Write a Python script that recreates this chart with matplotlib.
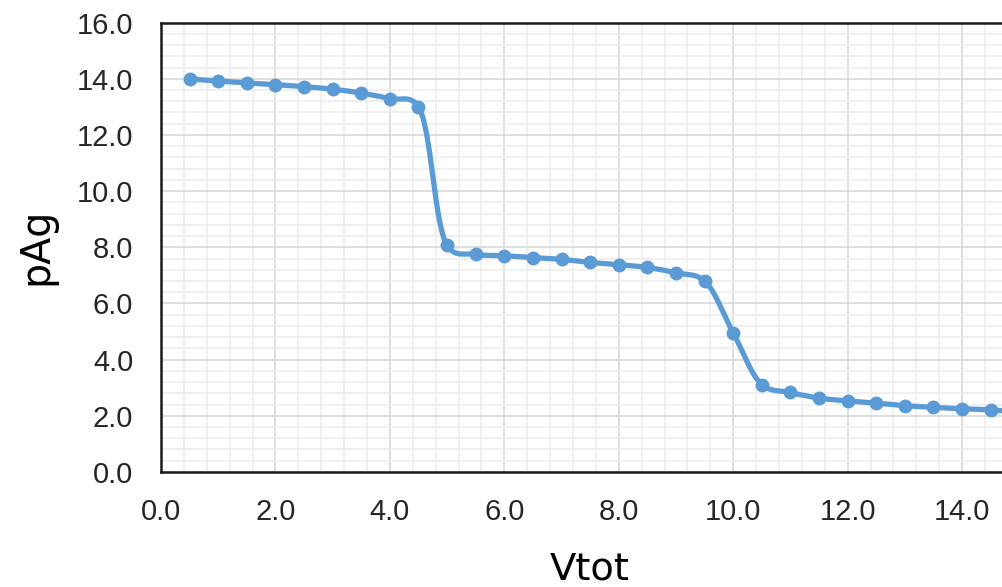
import numpy as np
import matplotlib.pyplot as plt
from matplotlib.ticker import MultipleLocator, FormatStrFormatter

# data
vtot = [0.5, 1.0, 1.5, 2.0, 2.5, 3.0, 3.5, 4.0, 4.5, 5.0,
        5.5, 6.0, 6.5, 7.0, 7.5, 8.0, 8.5, 9.0, 9.5, 10.0,
        10.5, 11.0, 11.5, 12.0, 12.5, 13.0, 13.5, 14.0, 14.5, 15.0]
pag = [13.99, 13.92, 13.85, 13.79, 13.72, 13.63, 13.49, 13.29, 13.0, 8.07,
       7.75, 7.70, 7.63, 7.57, 7.46, 7.38, 7.28, 7.09, 6.80, 4.95,
       3.11, 2.83, 2.63, 2.53, 2.45, 2.36, 2.30, 2.25, 2.21, 2.13]

XSCALE = 57.2   # px per x unit, used only to shape the smoothed line
YSCALE = 28.1


def smooth(x, y, n=40, alpha=0.3):
    # Catmull-Rom in screen-like space, close to Excel's smoothed line
    P = np.column_stack([np.asarray(x, float) * XSCALE, np.asarray(y, float) * YSCALE])
    P = np.vstack([2 * P[0] - P[1], P, 2 * P[-1] - P[-2]])
    out = []
    for i in range(1, len(P) - 2):
        p0, p1, p2, p3 = P[i - 1], P[i], P[i + 1], P[i + 2]
        t0 = 0.0
        t1 = t0 + np.linalg.norm(p1 - p0) ** alpha
        t2 = t1 + np.linalg.norm(p2 - p1) ** alpha
        t3 = t2 + np.linalg.norm(p3 - p2) ** alpha
        t = np.linspace(t1, t2, n)[:, None]
        a1 = (t1 - t) / (t1 - t0) * p0 + (t - t0) / (t1 - t0) * p1
        a2 = (t2 - t) / (t2 - t1) * p1 + (t - t1) / (t2 - t1) * p2
        a3 = (t3 - t) / (t3 - t2) * p2 + (t - t2) / (t3 - t2) * p3
        b1 = (t2 - t) / (t2 - t0) * a1 + (t - t0) / (t2 - t0) * a2
        b2 = (t3 - t) / (t3 - t1) * a2 + (t - t1) / (t3 - t1) * a3
        out.append((t2 - t) / (t2 - t1) * b1 + (t - t1) / (t2 - t1) * b2)
    c = np.vstack(out)
    return c[:, 0] / XSCALE, c[:, 1] / YSCALE


plt.rcParams['font.family'] = ['Liberation Sans', 'DejaVu Sans']

fig = plt.figure(figsize=(10.03, 5.87), dpi=100)
ax = fig.add_axes([0.1605, 0.196, 0.8395, 0.7655])

blue = '#5B9BD5'
sx, sy = smooth(vtot, pag)
ax.plot(sx, sy, color=blue, lw=3.8, solid_capstyle='round', zorder=3)
ax.plot(vtot, pag, 'o', color=blue, ms=10, mew=0, zorder=4)

ax.set_xlim(0, 14.715)
ax.set_ylim(0, 16)
ax.xaxis.set_major_locator(MultipleLocator(2))
ax.yaxis.set_major_locator(MultipleLocator(2))
ax.xaxis.set_minor_locator(MultipleLocator(0.4))
ax.yaxis.set_minor_locator(MultipleLocator(0.4))
ax.xaxis.set_major_formatter(FormatStrFormatter('%.1f'))
ax.yaxis.set_major_formatter(FormatStrFormatter('%.1f'))
ax.grid(which='major', color='#D9D9D9', lw=1.2)
ax.grid(which='minor', color='#EDEDED', lw=1.2)
ax.set_axisbelow(True)
ax.tick_params(which='both', length=0, labelsize=21, colors='#262626')
ax.tick_params(axis='x', pad=19)
ax.tick_params(axis='y', pad=20)

for s in ['left', 'bottom', 'top']:
    ax.spines[s].set_color('#1a1a1a')
    ax.spines[s].set_linewidth(1.8)
ax.spines['right'].set_visible(False)

fig.text(0.036, 1 - 246 / 587, 'pAg', rotation=90, fontsize=28.5, ha='center', va='center',
         family='DejaVu Sans')
fig.text(0.588, 1 - 580 / 587, 'Vtot', fontsize=27.7, ha='center', va='baseline',
         family='DejaVu Sans')

fig.savefig('out.png', dpi=100)
